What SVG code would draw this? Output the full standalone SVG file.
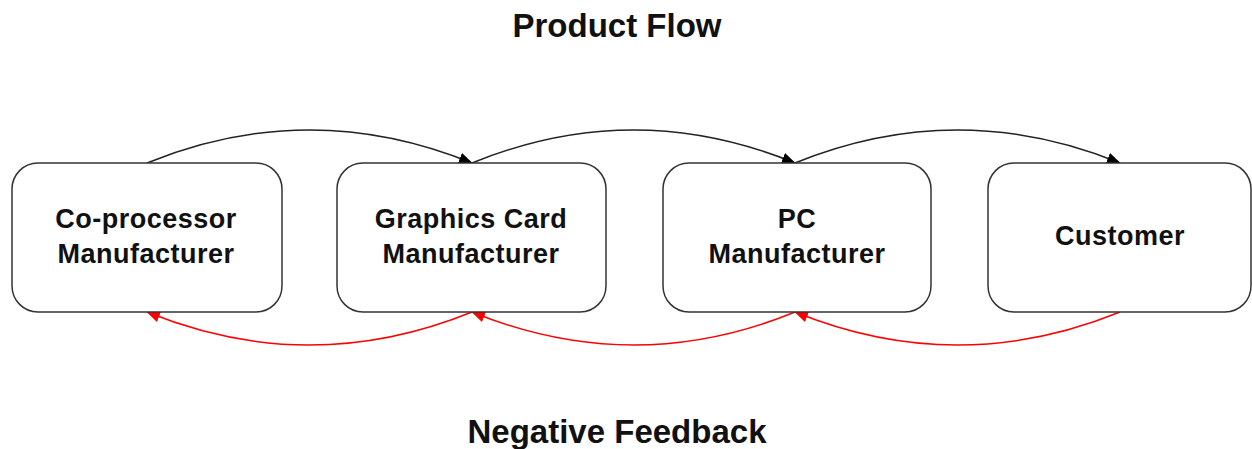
<svg xmlns="http://www.w3.org/2000/svg" width="1252" height="449" viewBox="0 0 1252 449">
<style>
.box{fill:#fff;stroke:#333;stroke-width:1.5}
.lbl{font-family:"Liberation Sans",Arial,sans-serif;font-weight:bold;font-size:27px;fill:#111;text-anchor:middle;letter-spacing:0.5px}
.title{font-family:"Liberation Sans",Arial,sans-serif;font-weight:bold;font-size:33px;fill:#111;text-anchor:middle}
.fwd{fill:none;stroke:#222;stroke-width:1.5}
.back{fill:none;stroke:#f00;stroke-width:1.5}
</style>
<defs>
<marker id="ab" markerWidth="14" markerHeight="11" refX="13" refY="5.5" orient="auto" markerUnits="userSpaceOnUse">
<path d="M0,0 L14,5.5 L0,11 Z" fill="#000"/>
</marker>
<marker id="ar" markerWidth="14" markerHeight="11" refX="13" refY="5.5" orient="auto" markerUnits="userSpaceOnUse">
<path d="M0,0 L14,5.5 L0,11 Z" fill="#f00"/>
</marker>
</defs>
<rect width="1252" height="449" fill="#fff"/>
<text class="title" x="617" y="37">Product Flow</text>
<text class="title" x="617" y="443">Negative Feedback</text>
<g id="connectors">
<path class="fwd" d="M147,163 Q309.5,97 472,163" marker-end="url(#ab)"/>
<path class="fwd" d="M472,163 Q633.5,97 795,163" marker-end="url(#ab)"/>
<path class="fwd" d="M795,163 Q957.5,97 1120,163" marker-end="url(#ab)"/>
<path class="back" d="M472,312 Q309.5,378 147,312" marker-end="url(#ar)"/>
<path class="back" d="M795,312 Q633.5,378 472,312" marker-end="url(#ar)"/>
<path class="back" d="M1120,312 Q957.5,378 795,312" marker-end="url(#ar)"/>
</g>
<g id="coprocessor">
<rect class="box" x="12" y="163" width="270" height="149" rx="26"/>
<text class="lbl" x="146" y="228">Co-processor</text>
<text class="lbl" x="146" y="263">Manufacturer</text>
</g>
<g id="graphics">
<rect class="box" x="337" y="163" width="269" height="149" rx="26"/>
<text class="lbl" x="471" y="228">Graphics Card</text>
<text class="lbl" x="471" y="263">Manufacturer</text>
</g>
<g id="pc">
<rect class="box" x="663" y="163" width="268" height="149" rx="26"/>
<text class="lbl" x="797" y="228">PC</text>
<text class="lbl" x="797" y="263">Manufacturer</text>
</g>
<g id="customer">
<rect class="box" x="988" y="163" width="263" height="149" rx="26"/>
<text class="lbl" x="1120" y="245">Customer</text>
</g>
</svg>
